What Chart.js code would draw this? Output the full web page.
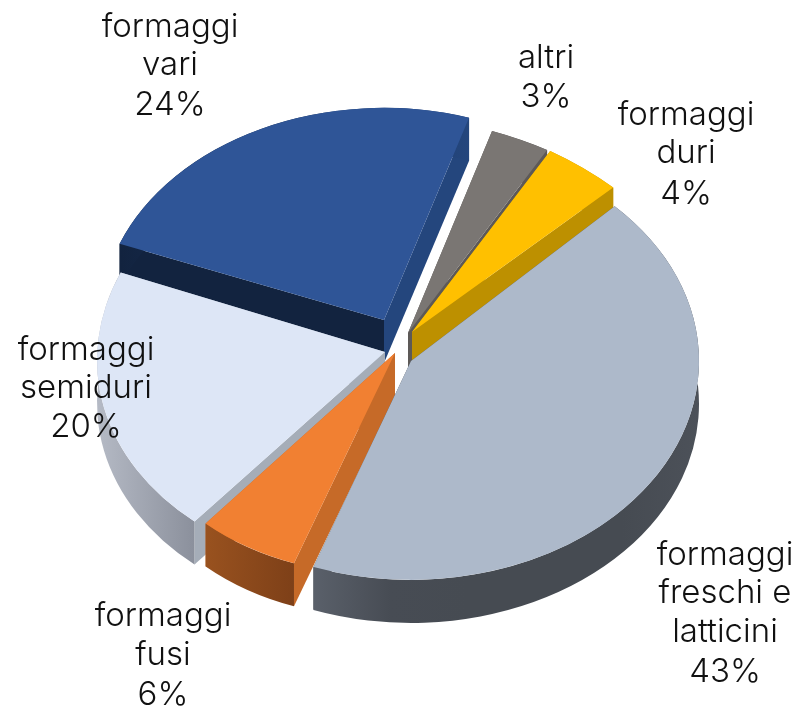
<!DOCTYPE html>
<html>
<head>
<meta charset="utf-8">
<title>Formaggi</title>
<script src="https://cdn.jsdelivr.net/npm/chart.js@4/dist/chart.umd.min.js"></script>
<style>
  html, body { margin: 0; padding: 0; background: #fff; }
  canvas { display: block; }
</style>
</head>
<body>
<canvas id="pie" width="800" height="708"></canvas>
<script>
const categories = [
  ['formaggi', 'freschi e', 'latticini'],
  ['formaggi', 'fusi'],
  ['formaggi', 'semiduri'],
  ['formaggi', 'vari'],
  ['altri'],
  ['formaggi', 'duri']
];
const values = [43, 6, 20, 24, 3, 4];

// slice styles
const topColors = ['#adb9ca', '#f18032', '#dde6f6', '#2f5597', '#7a7673', '#ffc000'];
const startFace = ['#474c54', '#c66a28', '#a5adb8', '#12233f', '#5d5957', '#bd9000'];
const endFace = ['#474c54', '#c66a28', '#a5adb8', '#24467d', '#5d5957', '#bd9000'];
const wallColors = [
  ['#5a606a', '#474c54', '#464b52', '#464b52', '#464b52', '#4c5159'],
  ['#99521f', '#7e4018'],
  ['#b5bac5', '#8b909c'],
  ['#12233f', '#24467d'],
  ['#5d5957', '#5d5957'],
  ['#bd9000', '#bd9000']
];
const drawOrder = [3, 4, 5, 2, 1, 0];

// how far each slice is pulled out of the pie
const explodeX = [11, -5, -15, -16, 8, 12];
const explodeY = [7, -1, -2, -34, -21, -22];

// 3d look: each slice gets its own [a, b, c, d] canvas matrix, the back is squeezed by the perspective
const sliceWarp = [
  [1, 0, 0, 0.76],
  [0.966, -0.025, -0.025, 0.767],
  [1, -0.028, 0, 0.76],
  [0.983, -0.03, 0.04, 0.736],
  [1.084, 0.03, 0.08, 0.756],
  [1.054, 0.052, 0.066, 0.761]
];
const depth = 43;

// centre of each label, one y per line (the % line comes last)
const labelX = [725, 163, 86, 170, 546, 686];
const labelY = [[555, 593, 632, 672], [616, 655, 695], [350, 388, 427], [27, 65, 105], [58, 97], [115, 153, 194]];

function drawSlice(ctx, arc, i) {
  const { x, y, startAngle, endAngle, outerRadius: r } = arc;
  const [a, b, c, d] = sliceWarp[i];
  const det = a * d - b * c;
  // local vector that lands straight below on the screen
  const u = -c * depth / det;
  const v = a * depth / det;

  ctx.save();
  ctx.translate(x + explodeX[i], y + explodeY[i]);
  ctx.transform(a, b, c, d, 0, 0);
  ctx.translate(-x, -y);

  const sx = x + Math.cos(startAngle) * r, sy = y + Math.sin(startAngle) * r;
  const ex = x + Math.cos(endAngle) * r, ey = y + Math.sin(endAngle) * r;

  ctx.fillStyle = startFace[i];
  ctx.beginPath();
  ctx.moveTo(x, y); ctx.lineTo(sx, sy); ctx.lineTo(sx + u, sy + v); ctx.lineTo(x + u, y + v);
  ctx.closePath(); ctx.fill();

  ctx.fillStyle = endFace[i];
  ctx.beginPath();
  ctx.moveTo(x, y); ctx.lineTo(ex, ey); ctx.lineTo(ex + u, ey + v); ctx.lineTo(x + u, y + v);
  ctx.closePath(); ctx.fill();

  // outer wall, shaded left to right
  let minX = Math.min(sx, ex), maxX = Math.max(sx, ex);
  for (let t = startAngle; t < endAngle; t += 0.02) {
    const px = x + Math.cos(t) * r;
    minX = Math.min(minX, px);
    maxX = Math.max(maxX, px);
  }
  const grad = ctx.createLinearGradient(minX, 0, maxX, 0);
  wallColors[i].forEach((col, n) => grad.addColorStop(n / (wallColors[i].length - 1), col));
  ctx.fillStyle = grad;
  ctx.beginPath();
  ctx.arc(x, y, r, startAngle, endAngle);
  ctx.arc(x + u, y + v, r, endAngle, startAngle, true);
  ctx.closePath(); ctx.fill();

  arc.draw(ctx);
  ctx.restore();
}

const pie3d = {
  id: 'pie3d',
  beforeDatasetDraw(chart) {
    const arcs = chart.getDatasetMeta(0).data;
    drawOrder.forEach(i => drawSlice(chart.ctx, arcs[i], i));
    return false;
  },
  afterDraw(chart) {
    const ctx = chart.ctx;
    ctx.save();
    ctx.fillStyle = '#111';
    ctx.font = '300 33px Inter';
    ctx.textAlign = 'center';
    ctx.textBaseline = 'middle';
    categories.forEach((lines, i) => {
      lines.concat(values[i] + '%').forEach((t, n) => {
        ctx.fillText(t, labelX[i], labelY[i][n]);
      });
    });
    ctx.restore();
  }
};

new Chart(document.getElementById('pie'), {
  type: 'pie',
  data: {
    labels: categories.map(l => l.join(' ')),
    datasets: [{
      data: values,
      backgroundColor: topColors,
      borderWidth: 0
    }]
  },
  options: {
    responsive: false,
    animation: false,
    rotation: 45,
    radius: 288,
    plugins: { legend: { display: false }, tooltip: { enabled: false } }
  },
  plugins: [pie3d]
});
</script>
</body>
</html>
